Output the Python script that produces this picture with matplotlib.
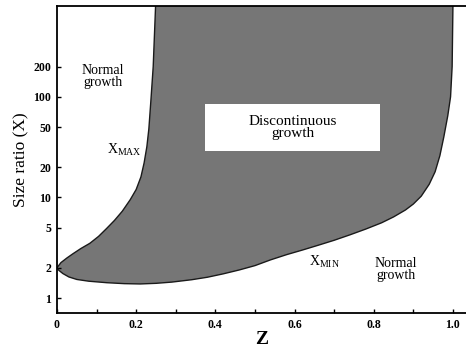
import matplotlib
matplotlib.use("Agg")
import matplotlib.pyplot as plt
from matplotlib.patches import Rectangle
from matplotlib.ticker import FixedLocator, MultipleLocator

plt.rcParams['font.family'] = ['Liberation Serif', 'DejaVu Serif']
plt.rcParams['mathtext.fontset'] = 'custom'
plt.rcParams['mathtext.rm'] = 'Liberation Serif'

# upper boundary of the discontinuous region (X_MAX), z vs size ratio
zmax = [0.0, 0.01, 0.025, 0.04, 0.06, 0.083, 0.105, 0.125, 0.145, 0.165, 0.185,
        0.2, 0.212, 0.22, 0.227, 0.232, 0.237, 0.243, 0.249]
xmax = [2.0, 2.25, 2.5, 2.75, 3.1, 3.5, 4.1, 4.9, 5.9, 7.3, 9.5,
        12, 16, 22, 32, 48, 90, 200, 800]

# lower boundary (X_MIN)
zmin = [0.0, 0.005, 0.015, 0.03, 0.05, 0.08, 0.126, 0.17, 0.21, 0.25, 0.29,
        0.34, 0.38, 0.42, 0.46, 0.5, 0.54, 0.58, 0.62, 0.66, 0.7, 0.74, 0.78,
        0.82, 0.85, 0.88, 0.9, 0.92, 0.94, 0.955, 0.967, 0.977, 0.987, 0.994,
        0.998, 1.0]
xmin = [2.0, 1.88, 1.75, 1.62, 1.53, 1.47, 1.42, 1.39, 1.38, 1.40, 1.44,
        1.52, 1.61, 1.74, 1.9, 2.1, 2.4, 2.7, 3.0, 3.35, 3.75, 4.25, 4.85,
        5.6, 6.4, 7.5, 8.6, 10.3, 13.5, 18, 26, 40, 65, 100, 200, 800]

yticks = [1, 2, 5, 10, 20, 50, 100, 200]
xticks = [0, 0.2, 0.4, 0.6, 0.8, 1.0]
xlabels = ['0', '0.2', '0.4', '0.6', '0.8', '1.0']

fig = plt.figure(figsize=(4.66, 3.48), dpi=100)
ax = fig.add_axes([0.1223, 0.1006, 0.8777, 0.8822])

# shaded region: up along X_MAX to the top, then back down X_MIN
poly_z = zmax + zmin[::-1]
poly_x = xmax + xmin[::-1]
ax.fill(poly_z, poly_x, color='#767676', lw=0, zorder=1)
ax.plot(zmax, xmax, color='#1a1a1a', lw=1.0, zorder=2, solid_joinstyle='round')
ax.plot(zmin, xmin, color='#1a1a1a', lw=1.0, zorder=2, solid_joinstyle='round')

# white panel behind the region label
ax.add_patch(Rectangle((0.374, 29), 0.442, 56, fc='white', ec='none', zorder=3))

ax.set_yscale('log')
ax.set_xlim(0, 1.033)
ax.set_ylim(0.71, 800)

ax.yaxis.set_major_locator(FixedLocator(yticks))
ax.yaxis.set_minor_locator(FixedLocator([]))
ax.set_yticklabels([str(t) for t in yticks])
ax.set_xticks(xticks)
ax.set_xticklabels(xlabels)
ax.xaxis.set_minor_locator(MultipleLocator(0.1))
ax.tick_params(which='both', direction='in', length=3, width=1, labelsize=8.5, pad=4)
for lab in ax.get_xticklabels() + ax.get_yticklabels():
    lab.set_fontweight('bold')

ax.spines['right'].set_visible(False)
for s in ['left', 'bottom', 'top']:
    ax.spines[s].set_linewidth(1.3)

ax.set_ylabel('Size ratio (X)', fontsize=12.5, labelpad=3)
ax.set_xlabel('Z', fontsize=14, fontweight='bold', labelpad=0)

ax.text(0.116, 160, 'Normal\ngrowth', ha='center', va='center', fontsize=10,
        linespacing=0.9)
ax.text(0.855, 1.9, 'Normal\ngrowth', ha='center', va='center', fontsize=10,
        linespacing=0.9)
ax.text(0.595, 50, 'Discontinuous\ngrowth', ha='center', va='center', fontsize=11,
        linespacing=0.9, zorder=4)
ax.text(0.17, 30, r'X$_{\mathrm{MAX}}$', ha='center', va='center', fontsize=10)
ax.text(0.675, 2.3, r'X$_{\mathrm{MIN}}$', ha='center', va='center', fontsize=10)

fig.savefig('out.png', dpi=100)
